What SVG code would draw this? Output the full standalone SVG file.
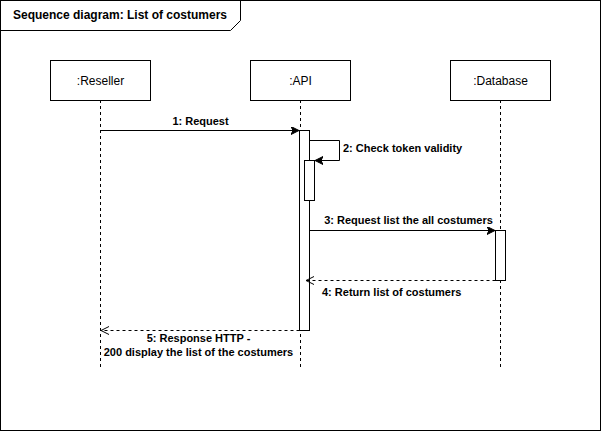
<svg xmlns="http://www.w3.org/2000/svg" width="601" height="431" viewBox="0 0 601 431">
<style>
.box{fill:#fff;stroke:#000;stroke-width:1}
.life{fill:none;stroke:#000;stroke-width:1;stroke-dasharray:3,3}
.msg{fill:none;stroke:#000;stroke-width:1}
.ret{fill:none;stroke:#000;stroke-width:1;stroke-dasharray:3,3}
.lbl{font-family:"Liberation Sans",Arial,sans-serif;font-size:12px;fill:#000}
.ml{font-family:"Liberation Sans",Arial,sans-serif;font-size:11px;font-weight:bold;fill:#000}
</style>
<defs>
<marker id="block" markerWidth="10" markerHeight="10" refX="8" refY="4" orient="auto" markerUnits="userSpaceOnUse">
<path d="M0,0 L8,4 L0,8 L2,4 Z" fill="#000" stroke="#000" stroke-width="1"/>
</marker>
<marker id="open" markerWidth="10" markerHeight="10" refX="8" refY="4" orient="auto" markerUnits="userSpaceOnUse">
<path d="M0,0 L8,4 L0,8" fill="none" stroke="#000" stroke-width="1"/>
</marker>
</defs>
<rect x="0.5" y="0.5" width="600" height="430" fill="#fff" stroke="#000"/>
<g id="frame">
<path d="M0.5,30.5 L230.5,30.5 L240.5,20.5 L240.5,0.5" fill="none" stroke="#000"/>
<text class="lbl" x="120" y="19" text-anchor="middle" font-weight="bold">Sequence diagram: List of costumers</text>
</g>
<g id="reseller">
<line class="life" x1="100.5" y1="100" x2="100.5" y2="368"/>
<rect class="box" x="50.5" y="60.5" width="100" height="40"/>
<text class="lbl" x="100.5" y="84.5" text-anchor="middle">:Reseller</text>
</g>
<g id="api">
<line class="life" x1="300.5" y1="100" x2="300.5" y2="368"/>
<rect class="box" x="250.5" y="60.5" width="100" height="40"/>
<text class="lbl" x="300.5" y="84.5" text-anchor="middle">:API</text>
<rect class="box" x="299.5" y="130.5" width="10" height="200"/>
<rect class="box" x="304.5" y="160.5" width="10" height="40"/>
</g>
<g id="database">
<line class="life" x1="500.5" y1="100" x2="500.5" y2="368"/>
<rect class="box" x="450.5" y="60.5" width="100" height="40"/>
<text class="lbl" x="500.5" y="84.5" text-anchor="middle">:Database</text>
<rect class="box" x="495.5" y="230.5" width="10" height="50"/>
</g>
<g id="connectors">
<line class="msg" x1="100.5" y1="130.5" x2="299" y2="130.5" marker-end="url(#block)"/>
<text class="ml" x="200.5" y="125" text-anchor="middle">1: Request</text>
<path class="msg" d="M309.5,140.5 L339.5,140.5 L339.5,160.5 L315,160.5" marker-end="url(#block)"/>
<text class="ml" x="343" y="152">2: Check token validity</text>
<line class="msg" x1="309.5" y1="230.5" x2="495" y2="230.5" marker-end="url(#block)"/>
<text class="ml" x="408.5" y="224" text-anchor="middle">3: Request list the all costumers</text>
<line class="ret" x1="495.5" y1="280.5" x2="306" y2="280.5" marker-end="url(#open)"/>
<text class="ml" x="322" y="296">4: Return list of costumers</text>
<line class="ret" x1="299.5" y1="330.5" x2="101" y2="330.5" marker-end="url(#open)"/>
<text class="ml" x="198.5" y="342" text-anchor="middle">5: Response HTTP -</text>
<text class="ml" x="198.5" y="355.5" text-anchor="middle">200 display the list of the costumers</text>
</g>
</svg>
